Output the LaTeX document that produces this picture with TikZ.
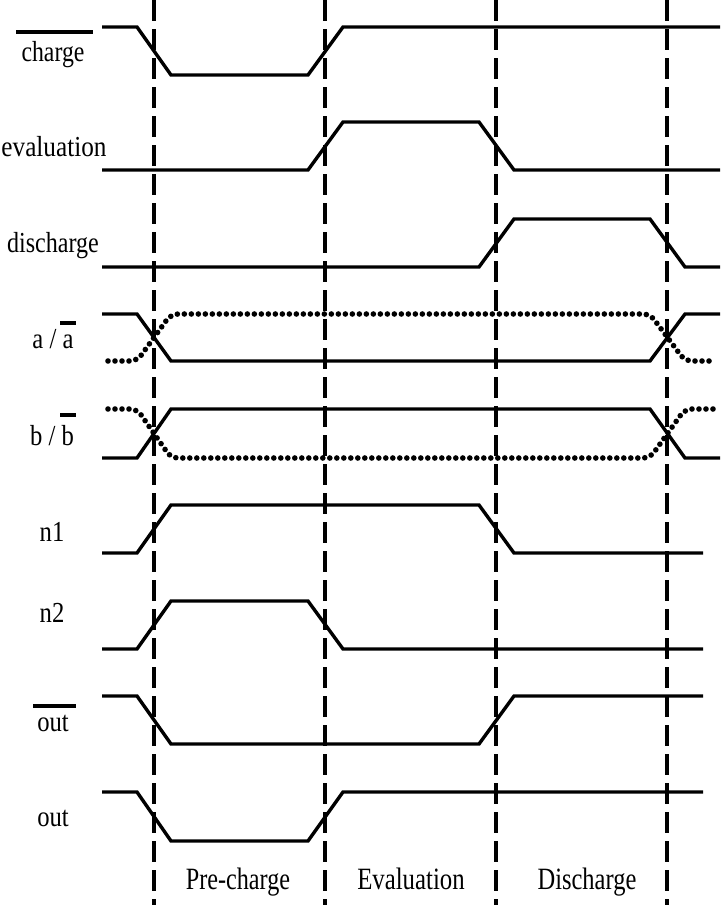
\documentclass[tikz,border=0pt]{standalone}
\usepackage{fontspec}
\setmainfont{Liberation Serif}
\begin{document}
\begin{tikzpicture}[x=1pt,y=-1pt,
  sig/.style={line width=3.4pt},
  dotsig/.style={line width=5.6pt, line cap=round, dash pattern=on 0pt off 7pt, rounded corners=7pt},
  phase/.style={line width=3.4pt, dash pattern=on 21pt off 8pt},
  lbl/.style={anchor=base, inner sep=0pt, font=\fontsize{29}{32}\selectfont},
  plbl/.style={anchor=base, inner sep=0pt, font=\fontsize{31}{34}\selectfont},
  bar/.style={line width=3.2pt}]
\useasboundingbox (0,0) rectangle (726,910);
% phase boundaries
\foreach \x in {154,325,496,667} \draw[phase] (\x,0) -- (\x,905);
% labels
\node[lbl] (lcharge) at (53,61) {\scalebox{0.82}[1]{charge}};
\draw[bar] (16,32) -- (93,32);
\node[lbl] (leval) at (54,156) {\scalebox{0.87}[1]{evaluation}};
\node[lbl] (ldis) at (53,252) {\scalebox{0.83}[1]{discharge}};
\node[lbl] (la) at (53,348) {\scalebox{0.85}[1]{a / a}};
\draw[bar] (60,323) -- (76,323);
\node[lbl] (lb) at (52,445) {\scalebox{0.85}[1]{b / b}};
\draw[bar] (60,415) -- (76,415);
\node[lbl] (ln1) at (52,541) {\scalebox{0.85}[1]{n1}};
\node[lbl] (ln2) at (52,622) {\scalebox{0.85}[1]{n2}};
\node[lbl] (loutb) at (53,731) {\scalebox{0.85}[1]{out}};
\draw[bar] (33,706) -- (76,706);
\node[lbl] (lout) at (53,826) {\scalebox{0.85}[1]{out}};
\node[plbl] (pre) at (238,889) {\scalebox{0.78}[1]{Pre-charge}};
\node[plbl] (evl) at (411,889) {\scalebox{0.80}[1]{Evaluation}};
\node[plbl] (dis) at (587,889) {\scalebox{0.79}[1]{Discharge}};
% waveforms
\draw[sig] (102,27)--(137,27)--(171,75)--(308,75)--(343,27)--(720,27);
\draw[sig] (102,170)--(308,170)--(343,122)--(479,122)--(514,170)--(720,170);
\draw[sig] (102,267)--(479,267)--(514,219)--(650,219)--(685,267)--(720,267);
\draw[sig] (102,314)--(137,314)--(171,361)--(650,361)--(685,314)--(720,314);
\draw[dotsig] (108,361)--(137,361)--(171,314)--(650,314)--(685,361)--(715,361);
\draw[sig] (102,458)--(137,458)--(171,409)--(650,409)--(685,458)--(720,458);
\draw[dotsig] (108,409)--(137,409)--(171,458)--(650,458)--(685,409)--(715,409);
\draw[sig] (102,553)--(137,553)--(171,505)--(479,505)--(514,553)--(703,553);
\draw[sig] (102,649)--(137,649)--(171,601)--(308,601)--(343,649)--(703,649);
\draw[sig] (102,696)--(137,696)--(171,744)--(479,744)--(514,696)--(703,696);
\draw[sig] (102,792)--(137,792)--(171,841)--(308,841)--(343,792)--(703,792);
\end{tikzpicture}
\end{document}
